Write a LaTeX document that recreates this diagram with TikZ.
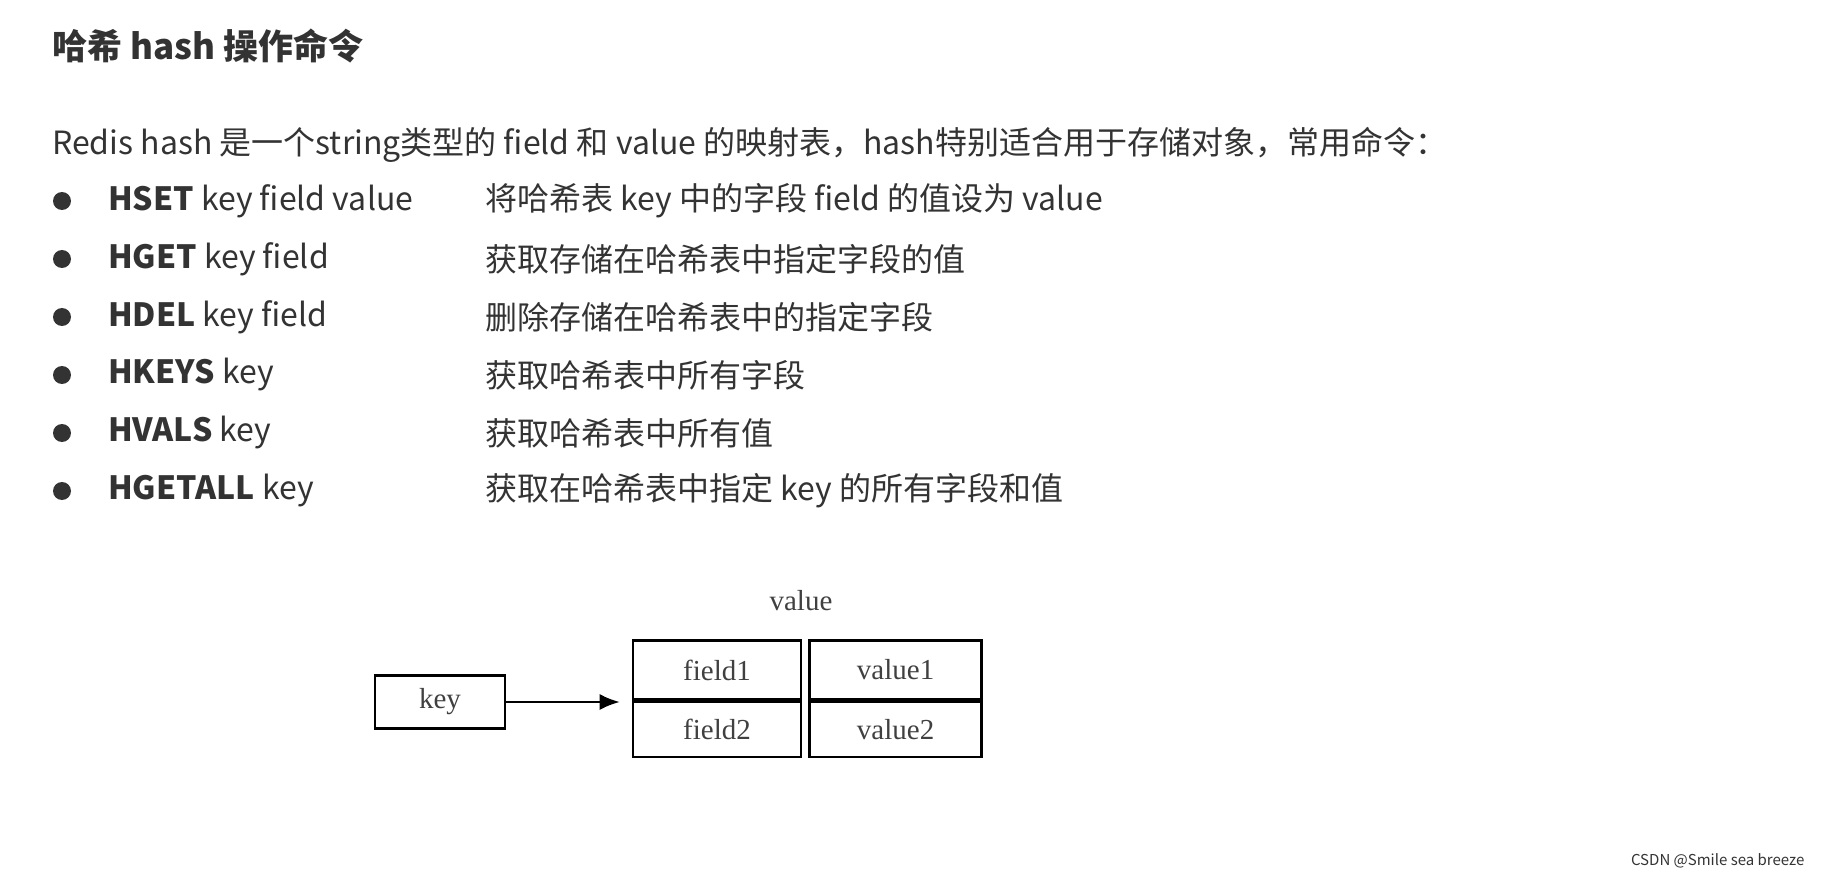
\documentclass[tikz,border=0pt]{standalone}
\usepackage{fontspec}
\setmainfont{Noto Sans CJK SC}
\newfontfamily\diagfont{Liberation Serif}
\usetikzlibrary{positioning, arrows.meta}
\tikzset{
	x=1pt, y=-1pt,
	txt/.style={anchor=west, inner sep=0pt, font=\fontsize{32}{36}\selectfont, text=black!80},
	dot/.style={circle, fill=black!80, inner sep=0pt, minimum size=18pt},
	cell/.style={draw, line width=2.6pt, inner sep=0pt, font=\diagfont\fontsize{29}{31}\selectfont, text=black!75},
}

\begin{document}
\begin{tikzpicture}
	\useasboundingbox (0,0) rectangle (1821,877);
	\node[txt, font=\bfseries\fontsize{35}{38}\selectfont] (title) at (52,46) {哈希 hash 操作命令};
	\node[txt] (intro) at (52,145) {Redis hash 是一个string类型的 field 和 value 的映射表，hash特别适合用于存储对象，常用命令：};
	% command list
	\foreach \cmd/\arg/\desc [count=\i] in {
		HSET/key field value/将哈希表 key 中的字段 field 的值设为 value,
		HGET/key field/获取存储在哈希表中指定字段的值,
		HDEL/key field/删除存储在哈希表中的指定字段,
		HKEYS/key/获取哈希表中所有字段,
		HVALS/key/获取哈希表中所有值,
		HGETALL/key/获取在哈希表中指定 key 的所有字段和值}{
		\node[dot] (b\i) at (62,143+58*\i) {};
		\node[txt] (c\i) at (108,143+58*\i) {\textbf{\cmd} \arg};
		\node[txt] (d\i) at (485,143+58*\i) {\desc};
	}
	% hash diagram
	\node[cell, minimum width=130pt, minimum height=53pt] (key) at (440,702) {key};
	\node[cell, minimum width=168pt, minimum height=59pt] (f1) at (717,670) {field1};
	\node[cell, minimum width=168pt, minimum height=55pt, below=0pt of f1] (f2) {field2};
	\node[cell, minimum width=172pt, minimum height=59pt, right=6pt of f1] (v1) {value1};
	\node[cell, minimum width=172pt, minimum height=55pt, right=6pt of f2] (v2) {value2};
	\node[font=\diagfont\fontsize{29}{31}\selectfont, text=black!75] (vlabel) at (801,601) {value};
	\coordinate[xshift=-12pt] (tip) at (key.east -| f1.west);
	\draw[line width=2.2pt, -{Latex[length=20pt, width=16pt]}] (key.east) -- (tip);
	\node[anchor=east, font=\fontsize{15}{17}\selectfont, text=black!80] (mark) at (1808,861) {CSDN @Smile sea breeze};
\end{tikzpicture}
\end{document}
